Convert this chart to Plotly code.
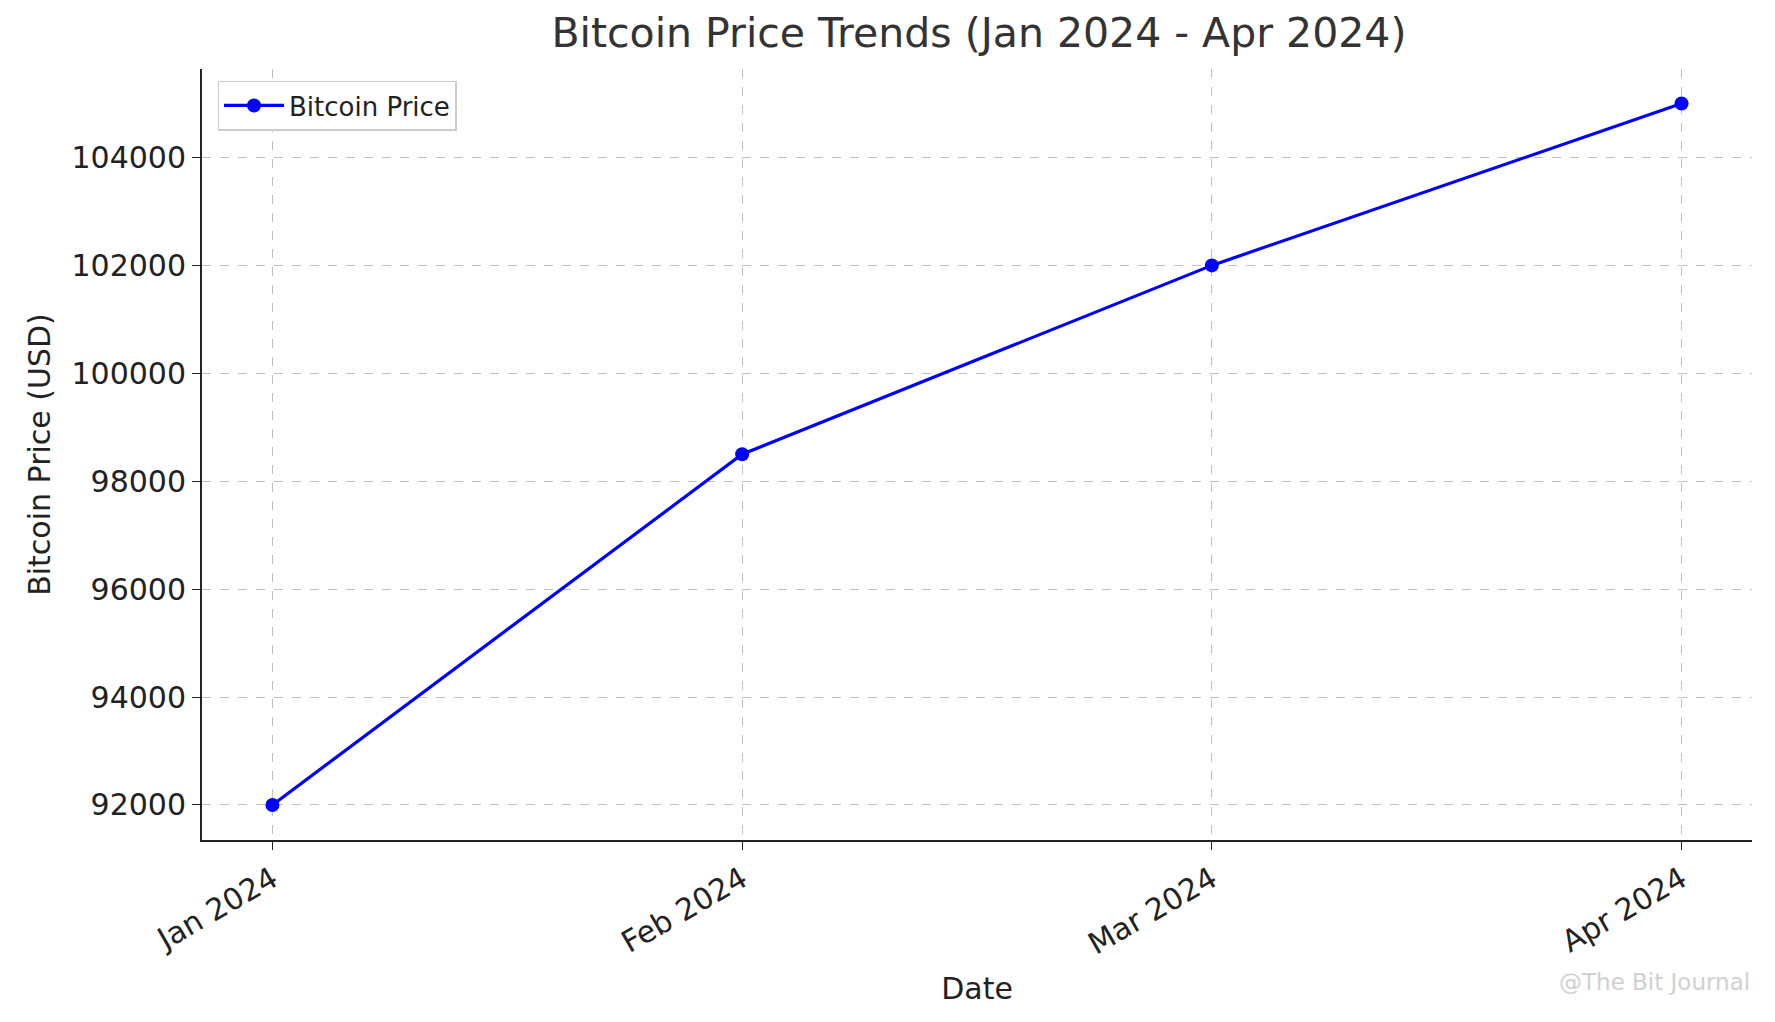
import plotly.graph_objects as go

months = ["Jan 2024", "Feb 2024", "Mar 2024", "Apr 2024"]
prices = [92000, 98500, 102000, 105000]
y_ticks = [92000, 94000, 96000, 98000, 100000, 102000, 104000]

font = "DejaVu Sans"

fig = go.Figure()
fig.add_trace(go.Scatter(
    x=months, y=prices, mode="lines+markers", name="Bitcoin Price",
    line=dict(color="#0000ff", width=3.2),
    marker=dict(color="#0000ff", size=14),
))

grid = dict(showgrid=True, gridcolor="#c0c0c0", griddash="dash", gridwidth=1)

fig.update_layout(
    width=1775, height=1022,
    paper_bgcolor="white", plot_bgcolor="white",
    font=dict(family=font, color="#222222", size=24),
    title=dict(text="Bitcoin Price Trends (Jan 2024 - Apr 2024)", x=0.547, xanchor="center",
               y=0.99, yanchor="top", font=dict(size=41, color="#333333")),
    margin=dict(l=194, r=31, t=61, b=190),
    xaxis=dict(
        type="category", range=[-0.15, 3.15], tickangle=-30,
        title=dict(text="Date", font=dict(size=30), standoff=18),
        showline=True, linecolor="#222222", linewidth=2,
        ticks="outside", ticklen=8, tickcolor="#222222", tickfont=dict(size=30), **grid,
    ),
    yaxis=dict(
        range=[91350, 105640], tickvals=y_ticks, ticktext=[str(v) for v in y_ticks],
        title=dict(text="Bitcoin Price (USD)", font=dict(size=30), standoff=12),
        showline=True, linecolor="#222222", linewidth=2,
        ticks="outside", ticklen=8, tickcolor="#222222", tickfont=dict(size=30), **grid,
    ),
    legend=dict(x=0.01, y=0.985, xanchor="left", yanchor="top",
                bordercolor="#cccccc", borderwidth=1.5, bgcolor="white",
                font=dict(size=26), itemwidth=60),
    showlegend=True,
)

fig.add_annotation(text="@The Bit Journal", xref="paper", yref="paper",
                   x=1.0, y=-0.165, xanchor="right", yanchor="top", showarrow=False,
                   font=dict(size=23, color="#d0d0d0"))

fig.write_html("out.html")
